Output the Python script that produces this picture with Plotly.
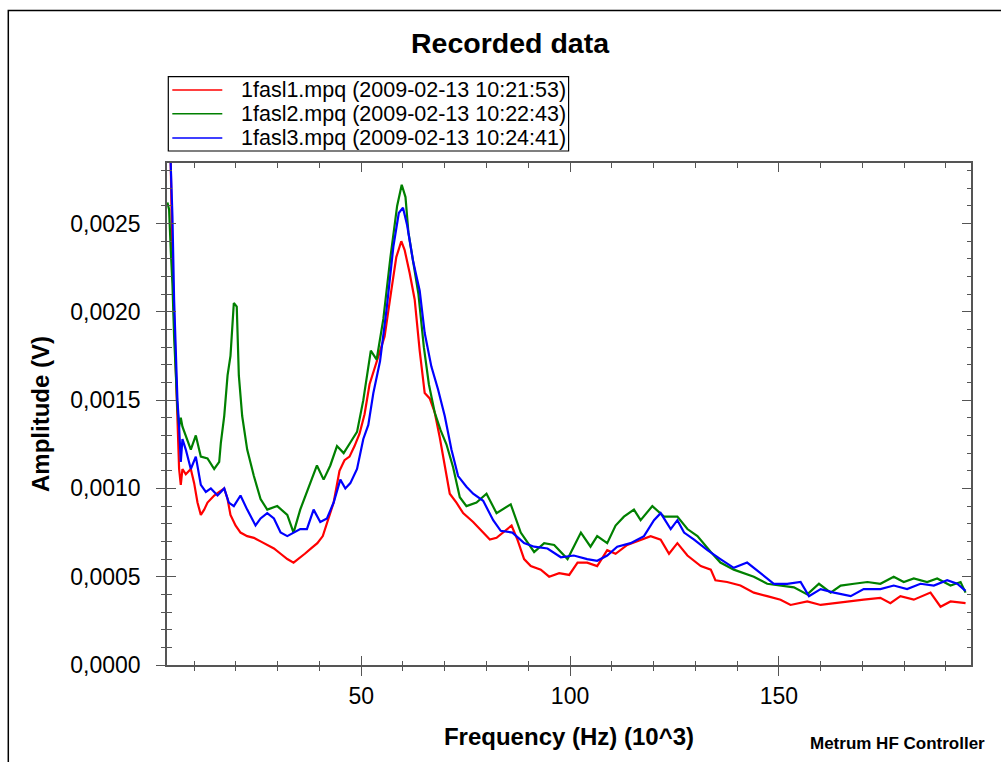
import plotly.graph_objects as go

# ---- data (frequency in kHz, amplitude in V) ----
red_freq = [3.6, 4.4, 4.8, 5.2, 5.6, 6.0, 6.4, 6.8, 7.2, 8.0, 9.2, 10.0, 10.8, 11.6, 12.4, 13.2, 14.8, 16.0,
            17.2, 18.0, 18.7, 19.9, 21.1, 22.7, 24.3, 25.9, 27.5, 29.1, 30.7, 32.3, 33.8, 35.0, 36.5, 38.0,
            39.5, 40.8, 42.4, 43.4, 44.8, 46.0, 47.2, 48.4, 49.6, 50.8, 52.0, 53.6, 55.6, 57.2, 58.4, 59.6,
            60.4, 61.6, 62.8, 64.0, 65.2, 66.4, 67.6, 68.8, 70.0, 71.2, 72.8, 74.4, 76.8, 79.2, 80.8, 82.4,
            84.0, 86.0, 87.4, 89.0, 90.6, 93.0, 95.0, 97.4, 99.8, 101.8, 104.1, 106.5, 108.9, 110.9, 113.7,
            116.9, 119.3, 121.7, 123.7, 125.7, 128.1, 131.3, 133.7, 134.8, 137.6, 140.8, 144.0, 147.2, 150.4,
            152.8, 156.8, 160.0, 163.2, 166.4, 170.3, 174.3, 176.7, 179.1, 182.3, 186.3, 188.7, 191.1, 194.7]
red_amp = [0.0034, 0.00284, 0.00226, 0.00197, 0.0016, 0.00128, 0.00111, 0.00102, 0.00111, 0.00108, 0.00111,
           0.00103, 0.00092, 0.00085, 0.00088, 0.00092, 0.00096, 0.00098, 0.00100, 0.00094, 0.00085, 0.00079,
           0.00075, 0.00073, 0.00072, 0.00070, 0.00068, 0.00066, 0.00063, 0.00060, 0.00058, 0.00060, 0.00063,
           0.00066, 0.00069, 0.00073, 0.00084, 0.00092, 0.00110, 0.00116, 0.00118, 0.00124, 0.00131, 0.00142,
           0.00159, 0.00171, 0.00186, 0.00212, 0.00231, 0.00240, 0.00235, 0.00222, 0.00207, 0.00178, 0.00154,
           0.00151, 0.00143, 0.00129, 0.00112, 0.00097, 0.00092, 0.00086, 0.00081, 0.00075, 0.00071, 0.00072,
           0.00075, 0.00079, 0.00071, 0.00060, 0.00056, 0.00054, 0.00050, 0.00052, 0.00051, 0.00058, 0.00058,
           0.00056, 0.00065, 0.00063, 0.00068, 0.00071, 0.00073, 0.00071, 0.00063, 0.00069, 0.00062, 0.00056,
           0.00054, 0.00048, 0.00047, 0.00045, 0.00041, 0.00039, 0.00037, 0.00034, 0.00036, 0.00034, 0.00035,
           0.00036, 0.00037, 0.00038, 0.00035, 0.00039, 0.00037, 0.00041, 0.00033, 0.00036, 0.00035]

green_freq = [3.6, 4.0, 4.4, 4.8, 5.2, 5.6, 6.0, 6.4, 6.8, 7.2, 8.0, 9.2, 10.4, 11.6, 13.2, 14.8, 16.0, 16.4,
              17.2, 18.0, 18.7, 19.5, 20.2, 20.7, 21.5, 22.7, 24.3, 25.9, 27.5, 29.9, 32.3, 33.8, 35.4, 37.8,
              39.4, 41.0, 42.6, 44.2, 45.8, 47.4, 49.0, 50.5, 52.3, 53.7, 55.3, 57.0, 58.6, 59.7, 60.6, 61.3,
              62.3, 63.7, 65.0, 66.2, 67.6, 69.0, 70.4, 72.0, 73.6, 75.2, 77.6, 80.0, 82.4, 85.8, 88.2, 91.4,
              93.8, 96.2, 99.4, 102.6, 104.9, 106.5, 108.9, 110.9, 112.9, 115.3, 116.9, 119.7, 122.5, 125.7,
              128.1, 130.5, 133.7, 136.0, 139.2, 141.6, 144.0, 147.2, 150.4, 153.6, 156.8, 159.6, 162.4, 164.8,
              168.0, 171.2, 174.3, 177.5, 179.9, 182.3, 185.5, 187.9, 191.1, 193.5, 194.7]
green_amp = [0.00262, 0.00258, 0.00235, 0.00216, 0.00186, 0.00160, 0.00145, 0.00135, 0.00140, 0.00135, 0.00130,
             0.00122, 0.00130, 0.00118, 0.00117, 0.00111, 0.00115, 0.00126, 0.00141, 0.00164, 0.00175, 0.00205,
             0.00203, 0.00164, 0.00141, 0.00122, 0.00107, 0.00094, 0.00088, 0.00090, 0.00085, 0.00075, 0.00088,
             0.00103, 0.00113, 0.00105, 0.00113, 0.00124, 0.00120, 0.00126, 0.00132, 0.00150, 0.00178, 0.00173,
             0.00196, 0.00231, 0.00260, 0.00272, 0.00265, 0.00245, 0.00230, 0.00210, 0.00180, 0.00159, 0.00143,
             0.00133, 0.00125, 0.00112, 0.00095, 0.00090, 0.00092, 0.00097, 0.00086, 0.00091, 0.00075, 0.00064,
             0.00069, 0.00068, 0.00060, 0.00075, 0.00067, 0.00073, 0.00069, 0.00079, 0.00084, 0.00088, 0.00082,
             0.00090, 0.00084, 0.00084, 0.00077, 0.00073, 0.00064, 0.00058, 0.00054, 0.00052, 0.00050, 0.00046,
             0.00045, 0.00044, 0.00040, 0.00046, 0.00041, 0.00045, 0.00046, 0.00047, 0.00046, 0.00050, 0.00047,
             0.00049, 0.00047, 0.00049, 0.00045, 0.00047, 0.00041]

blue_freq = [3.6, 4.4, 4.8, 5.2, 5.6, 6.0, 6.4, 6.8, 7.2, 8.0, 9.2, 10.4, 11.6, 12.8, 14.0, 15.6, 17.2, 18.3,
             19.5, 21.1, 22.7, 24.7, 25.9, 27.5, 29.1, 30.7, 32.3, 33.8, 35.4, 37.0, 38.6, 40.2, 41.8, 43.4,
             45.0, 46.2, 47.4, 49.0, 50.5, 51.7, 52.9, 54.5, 56.1, 57.7, 59.0, 60.0, 61.0, 62.4, 64.0, 65.2,
             66.8, 68.4, 70.0, 71.6, 73.2, 75.2, 76.8, 79.2, 81.6, 83.4, 86.2, 89.0, 91.4, 94.6, 97.8, 100.9,
             104.1, 106.5, 108.9, 111.3, 114.5, 117.7, 120.1, 121.7, 124.1, 125.7, 127.3, 129.7, 132.9, 136.0,
             139.2, 142.4, 145.6, 148.8, 152.0, 155.2, 157.2, 160.0, 163.2, 167.2, 170.3, 174.3, 177.5, 180.7,
             183.9, 187.1, 190.3, 192.7, 194.7]
blue_amp = [0.0034, 0.00290, 0.00254, 0.00207, 0.00179, 0.00150, 0.00135, 0.00115, 0.00128, 0.00122, 0.00111,
            0.00118, 0.00102, 0.00098, 0.00100, 0.00096, 0.00100, 0.00092, 0.00090, 0.00096, 0.00088, 0.00079,
            0.00083, 0.00086, 0.00083, 0.00075, 0.00073, 0.00075, 0.00077, 0.00077, 0.00088, 0.00081, 0.00083,
            0.00092, 0.00105, 0.00100, 0.00103, 0.00111, 0.00128, 0.00136, 0.00154, 0.00172, 0.00202, 0.00237,
            0.00256, 0.00259, 0.00249, 0.00229, 0.00212, 0.00188, 0.00169, 0.00156, 0.00141, 0.00122, 0.00107,
            0.00101, 0.00097, 0.00093, 0.00082, 0.00076, 0.00075, 0.00069, 0.00067, 0.00066, 0.00061, 0.00062,
            0.00060, 0.00059, 0.00062, 0.00067, 0.00069, 0.00073, 0.00082, 0.00086, 0.00077, 0.00082, 0.00075,
            0.00071, 0.00065, 0.00060, 0.00055, 0.00058, 0.00052, 0.00046, 0.00046, 0.00047, 0.00039, 0.00043,
            0.00041, 0.00039, 0.00043, 0.00043, 0.00045, 0.00043, 0.00046, 0.00045, 0.00048, 0.00046, 0.00042]

series_names = ["1fasl1.mpq (2009-02-13 10:21:53)",
                "1fasl2.mpq (2009-02-13 10:22:43)",
                "1fasl3.mpq (2009-02-13 10:24:41)"]
series_colors = ["#ff0000", "#008000", "#0000ff"]

x_range = [3.5, 196.0]
y_range = [0.0, 0.002843]

FONT = "Liberation Sans, Arial, sans-serif"
AXC = "#555555"

# plot-area pixel geometry (used only to place layout decorations)
PL, PR, PT, PB = 166.7, 970.7, 163.0, 665.0


def px(xpix):
    return (xpix - PL) / (PR - PL)


def py(ypix):
    return (PB - ypix) / (PB - PT)


fig = go.Figure()
for fx, fy, name, col in zip([red_freq, green_freq, blue_freq],
                             [red_amp, green_amp, blue_amp],
                             series_names, series_colors):
    fig.add_trace(go.Scatter(x=fx, y=fy, mode="lines", name=name, showlegend=False,
                             line=dict(color=col, width=2.2)))

# empty trace so the overlay (inside-tick) axes are instantiated
fig.add_trace(go.Scatter(x=[], y=[], xaxis="x2", yaxis="y2", showlegend=False, hoverinfo="skip"))

common_x = dict(range=x_range, tick0=0, dtick=50, showgrid=False, zeroline=False)
common_y = dict(range=y_range, tick0=0, dtick=0.0005, showgrid=False, zeroline=False)

fig.update_layout(
    width=1001, height=762,
    margin=dict(l=167, r=30, t=163, b=97),
    paper_bgcolor="white", plot_bgcolor="white",
    separators=",.",
    font=dict(family=FONT, color="black"),
    title=dict(text="<b>Recorded data</b>", font=dict(size=28.5, family=FONT, color="black"),
               x=0.5095, xanchor="center", y=1 - 43 / 762, yanchor="middle"),
    xaxis=dict(**common_x, showline=True, linecolor=AXC, linewidth=1.5, mirror=True,
               ticks="outside", ticklen=9, tickwidth=1.3, tickcolor=AXC,
               minor=dict(ticks="outside", dtick=10, ticklen=4.5, tickwidth=1.2, tickcolor=AXC),
               tickfont=dict(size=23, family=FONT, color="black"), ticklabelstandoff=1,
               title=dict(text="<b>Frequency (Hz) (10^3)</b>", font=dict(size=24, family=FONT, color="black"),
                          standoff=20)),
    yaxis=dict(**common_y, showline=True, linecolor=AXC, linewidth=1.5, mirror=True,
               ticks="outside", ticklen=9, tickwidth=1.3, tickcolor=AXC, tickformat=".4f",
               minor=dict(ticks="outside", dtick=0.0001, ticklen=4.5, tickwidth=1.2, tickcolor=AXC),
               tickfont=dict(size=23, family=FONT, color="black"), ticklabelstandoff=11,
               title=dict(text="<b>Amplitude (V)</b>", font=dict(size=24, family=FONT, color="black"),
                          standoff=14)),
    xaxis2=dict(**common_x, overlaying="x", anchor="y", side="bottom", showline=False,
                ticks="inside", ticklen=9, tickwidth=1.3, tickcolor=AXC, mirror="ticks",
                showticklabels=False,
                minor=dict(ticks="inside", dtick=10, ticklen=4.5, tickwidth=1.2, tickcolor=AXC)),
    yaxis2=dict(**common_y, overlaying="y", anchor="x", side="left", showline=False,
                ticks="inside", ticklen=9, tickwidth=1.3, tickcolor=AXC, mirror="ticks",
                showticklabels=False,
                minor=dict(ticks="inside", dtick=0.0001, ticklen=4.5, tickwidth=1.2, tickcolor=AXC)),
    showlegend=False,
)

# legend box (drawn as layout decorations so the row spacing matches)
fig.add_shape(type="rect", xref="paper", yref="paper",
              x0=px(168), x1=px(568.3), y0=py(151), y1=py(76.7),
              line=dict(color="black", width=1.2), fillcolor="white")
legend_rows = [90.0, 113.8, 138.0]
for name, col, rowy in zip(series_names, series_colors, legend_rows):
    fig.add_shape(type="line", xref="paper", yref="paper",
                  x0=px(172), x1=px(222), y0=py(rowy), y1=py(rowy),
                  line=dict(color=col, width=1.5))
    fig.add_annotation(text=name, xref="paper", yref="paper", x=px(239), y=py(rowy),
                       xanchor="left", yanchor="middle", showarrow=False,
                       font=dict(size=21.5, family=FONT, color="black"))

fig.add_annotation(text="<b>Metrum HF Controller</b>", xref="paper", yref="paper",
                   x=px(896.7), y=py(743), xanchor="center", yanchor="middle",
                   showarrow=False, font=dict(size=17, family=FONT, color="black"))

# outer frame of the window
fig.add_shape(type="rect", xref="paper", yref="paper",
              x0=px(8), x1=px(1010), y0=py(775), y1=py(10.5),
              line=dict(color="black", width=1.5), fillcolor="rgba(0,0,0,0)")

fig.write_html("out.html", config={"displayModeBar": False},
               post_script="document.body.style.margin='0px';")
